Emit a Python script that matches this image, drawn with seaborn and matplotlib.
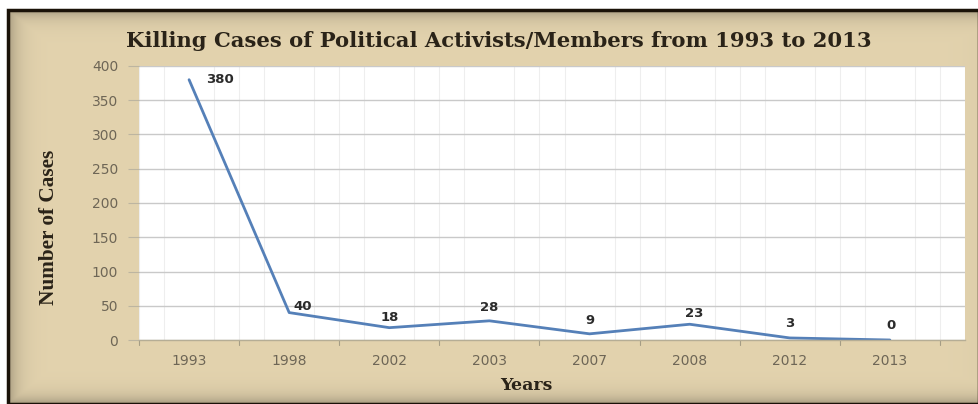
import numpy as np
import pandas as pd
import matplotlib
matplotlib.use("Agg")
import matplotlib.pyplot as plt
from matplotlib.patches import Rectangle
import seaborn as sns

# Chart data
years = ["1993", "1998", "2002", "2003", "2007", "2008", "2012", "2013"]
cases = [380, 40, 18, 28, 9, 23, 3, 0]
y_ticks = [0, 50, 100, 150, 200, 250, 300, 350, 400]

title_text = "Killing Cases of Political Activists/Members from 1993 to 2013"
x_label = "Years"
y_label = "Number of Cases"

df = pd.DataFrame({"Year": pd.Categorical(years, categories=years, ordered=True),
                   "Cases": cases})

sns.set_theme(style="white")
plt.rcParams["font.family"] = ["DejaVu Sans"]

W, H = 979, 404
fig = plt.figure(figsize=(W / 100, H / 100), dpi=100, facecolor="white")

# parchment panel with darkened edges
bg = fig.add_axes([8 / W, 0, 1 - 8 / W, 1 - 10 / H], zorder=0)
bg.set_axis_off()
gy, gx = np.mgrid[0:1:200j, 0:1:500j]
edge = np.minimum.reduce([gx * 2.0, 1 - gx + 0.05, gy, 1 - gy])
shade = 1 - 0.25 * np.exp(-edge / 0.02)
base = np.array([227, 211, 174]) / 255.0
img = np.clip(shade[..., None] * base[None, None, :], 0, 1)
bg.imshow(img, aspect="auto", extent=[0, 1, 0, 1], interpolation="bilinear")
bg.set_xlim(0, 1)
bg.set_ylim(0, 1)
bg.add_patch(Rectangle((0, 0), 1, 1, fill=False, edgecolor="#1a1208", lw=2.5,
                       transform=bg.transAxes, clip_on=False))

# main plot area
ax = fig.add_axes([139 / W, 1 - 340 / H, (965 - 139) / W, (340 - 66) / H], zorder=2)
ax.set_facecolor("white")
sns.lineplot(data=df, x="Year", y="Cases", ax=ax, color="#5580b8", lw=2.0, sort=False)

ax.set_xlim(-0.5, len(years) - 0.5)
ax.set_ylim(0, 400)
ax.set_yticks(y_ticks)
ax.set_xticks(range(len(years)))
ax.set_xticklabels(years)

# light grid lines
ax.yaxis.grid(True, color="#c9c9c9", lw=1.0)
ax.set_xticks(np.arange(-0.5, len(years), 0.25), minor=True)
ax.xaxis.grid(True, which="minor", color="#eeeeee", lw=0.8)
ax.set_axisbelow(True)

for s in ["top", "right", "left"]:
    ax.spines[s].set_visible(False)
ax.spines["bottom"].set_color("#b5ad95")
ax.spines["bottom"].set_linewidth(1.0)

tick_col = "#6e6656"
ax.tick_params(axis="x", which="major", length=0, pad=10, labelsize=10, labelcolor=tick_col)
ax.tick_params(axis="x", which="minor", length=0)
ax.tick_params(axis="y", length=8, width=0.8, color="#bdb5a0", direction="out",
               pad=7, labelsize=10, labelcolor=tick_col, left=True)
for b in np.arange(-0.5, len(years), 1.0):
    ax.plot([b, b], [0, -0.02], transform=ax.get_xaxis_transform(), color="#a59d85",
            lw=0.8, clip_on=False)

# value labels
offsets = [(12, 0), (3, 0), (0, 3), (0, 5), (0, 5), (3, 3), (0, 6), (1, 6)]
for i, (v, off) in enumerate(zip(cases, offsets)):
    ha = "left" if i in (0, 1) else "center"
    va = "center" if i == 0 else "bottom"
    ax.annotate(str(v), (i, v), xytext=off, textcoords="offset points",
                ha=ha, va=va, fontsize=9.5, fontweight="bold", color="#2b2b2b")

ax.set_xlabel("")
ax.set_ylabel("")

renderer = fig.canvas.get_renderer()


def fit_text(t, target_px, horizontal=True):
    bb = t.get_window_extent(renderer)
    size = bb.width if horizontal else bb.height
    t.set_fontsize(t.get_fontsize() * target_px / size)


serif = ["DejaVu Serif"]
title = fig.text(499 / W, 1 - 41 / H, title_text, ha="center", va="center",
                 family=serif, fontweight="bold", fontsize=14, color="#2a2318")
fit_text(title, 745)
fig.text(526 / W, 1 - 385 / H, x_label, ha="center", va="center",
         family=serif, fontweight="bold", fontsize=12.5, color="#2a2318")
yl = fig.text(49 / W, 1 - 227 / H, y_label, ha="center", va="center", rotation=90,
              family=["Liberation Serif"], fontweight="bold", fontsize=14, color="#2a2318")
fit_text(yl, 156, horizontal=False)

fig.savefig("out.png", dpi=100, facecolor="white")
